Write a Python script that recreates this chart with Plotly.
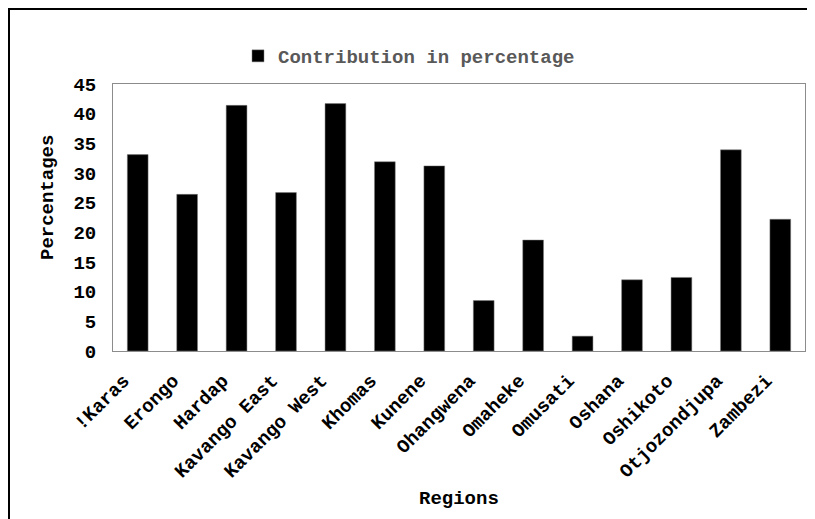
import plotly.graph_objects as go

regions = ["!Karas", "Erongo", "Hardap", "Kavango East", "Kavango West", "Khomas", "Kunene",
           "Ohangwena", "Omaheke", "Omusati", "Oshana", "Oshikoto", "Otjozondjupa", "Zambezi"]
contribution = [33.1, 26.4, 41.4, 26.7, 41.7, 31.9, 31.2, 8.5, 18.7, 2.5, 12.0, 12.4, 33.9, 22.2]
y_ticks = [0, 5, 10, 15, 20, 25, 30, 35, 40, 45]

# page has an 8px body margin; work in figure pixel coordinates
OFF = 8
W, H = 815 - OFF, 519 - OFF
L, R, T, B = 113 - OFF, 805 - OFF, 84 - OFF, 351 - OFF
pw, ph = R - L, B - T

def px(x):
    return (x - OFF - L) / pw

def py(y):
    return (B - (y - OFF)) / ph

FONT = "Liberation Mono"
fs = 19

fig = go.Figure()
fig.add_trace(go.Bar(
    x=regions, y=contribution, name="Contribution in percentage",
    marker=dict(color="#000000", line=dict(color="#7f7f7f", width=0.5)),
))

fig.update_layout(
    width=W, height=H,
    margin=dict(l=L, r=W - R, t=T, b=H - B, pad=0, autoexpand=False),
    paper_bgcolor="white", plot_bgcolor="white",
    bargap=0.58,
    font=dict(family=FONT, size=fs, color="#000000"),
    showlegend=True,
    legend=dict(orientation="h", x=px(409), xanchor="center", y=py(56), yanchor="middle",
                font=dict(family=FONT, size=fs, color="#595959", weight="bold"),
                itemwidth=30, bgcolor="rgba(0,0,0,0)"),
    xaxis=dict(tickangle=-45, showgrid=False, showline=True, mirror=True, automargin=False,
               linecolor="#8c8c8c", linewidth=1, ticks="",
               ticklabelshift=-14, ticklabelstandoff=10,
               tickfont=dict(family=FONT, size=fs, color="#000000", weight="bold")),
    yaxis=dict(range=[0, 45], tickvals=y_ticks, showgrid=False, showline=True, mirror=True,
               automargin=False,
               linecolor="#8c8c8c", linewidth=1, ticks="", zeroline=False,
               ticklabelstandoff=12,
               tickfont=dict(family=FONT, size=fs, color="#000000", weight="bold")),
)

fig.add_annotation(text="Percentages", xref="paper", yref="paper", x=px(48), y=py(198),
                   xanchor="center", yanchor="middle", textangle=-90, showarrow=False,
                   font=dict(family=FONT, size=fs, color="#000000", weight="bold"))
fig.add_annotation(text="Regions", xref="paper", yref="paper", x=px(459), y=py(499),
                   xanchor="center", yanchor="middle", showarrow=False,
                   font=dict(family=FONT, size=fs, color="#000000", weight="bold"))

# outer chart frame (top/left edges visible, right/bottom run off the page)
fig.add_shape(type="rect", xref="paper", yref="paper",
              x0=px(OFF + 1), x1=px(835), y0=py(540), y1=py(OFF + 1),
              line=dict(color="#000000", width=2), fillcolor="rgba(0,0,0,0)", layer="above")

fig.write_html("out.html")
